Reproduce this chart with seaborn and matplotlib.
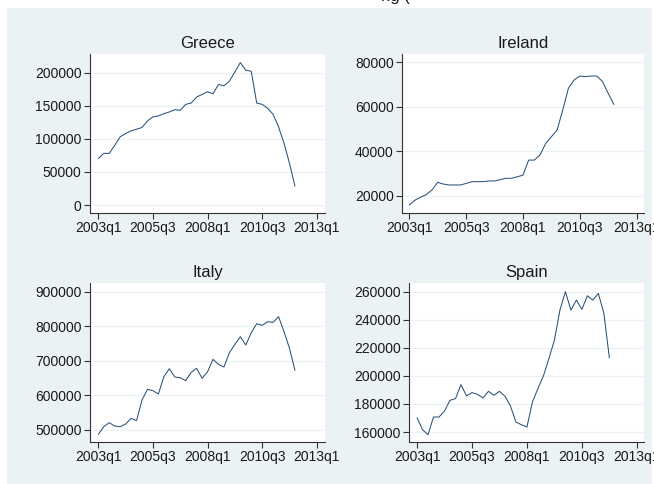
import matplotlib
matplotlib.use("Agg")
import matplotlib.pyplot as plt
import seaborn as sns
import pandas as pd
from matplotlib.patches import Rectangle

# ---------------- data ----------------
tick_pos = [0, 10, 20, 30, 40]
tick_labels = ["2003q1", "2005q3", "2008q1", "2010q3", "2013q1"]

greece = [70000, 78000, 78000, 90000, 103000, 108000, 112000, 114500, 117000,
          127000, 133000, 134500, 138000, 140500, 144000, 143000, 152000, 154000,
          163000, 167000, 171000, 168000, 182000, 180000, 187000, 201000, 215000,
          203500, 202000, 154000, 152000, 146000, 137000, 118000, 93000, 63000, 28500]
ireland = [15800, 18000, 19300, 20500, 22600, 26000, 25200, 24800, 24800, 24800,
           25500, 26300, 26300, 26300, 26600, 26600, 27200, 27800, 27800, 28500,
           29200, 36000, 36000, 38300, 43500, 46500, 49500, 58500, 68300, 72000,
           73800, 73500, 73800, 73800, 71300, 66000, 61000]
italy = [486500, 508700, 520300, 510600, 508700, 516400, 532900, 526100, 586000,
         616900, 613000, 603400, 653600, 676800, 652700, 650700, 642000, 666200,
         677800, 648800, 668100, 703900, 689400, 681600, 723200, 747300, 769600,
         745400, 781200, 807200, 802400, 813000, 811100, 827500, 784100, 735700, 672000]
spain = [170200, 161700, 158100, 170700, 170700, 175000, 182600, 183800, 193800,
         185700, 188100, 186900, 184300, 189000, 186200, 189000, 185500, 178600,
         167100, 165200, 163600, 181400, 191000, 200000, 212400, 225500, 246900,
         260000, 246900, 254000, 247400, 257100, 254000, 258800, 244500, 212900]

greece_ticks = [0, 50000, 100000, 150000, 200000]
ireland_ticks = [20000, 40000, 60000, 80000]
italy_ticks = [500000, 600000, 700000, 800000, 900000]
spain_ticks = [160000, 180000, 200000, 220000, 240000, 260000]

# ---------------- style ----------------
sns.set_theme(style="white")
plt.rcParams['font.family'] = ['Liberation Sans', 'DejaVu Sans']

BG = "#EAF2F3"
LINE = "#2A5279"
TXT = "#1a1a1a"

W, H = 654, 484
fig = plt.figure(figsize=(W / 100, H / 100), dpi=100, facecolor="white")
fig.patches.append(Rectangle((7 / W, 0), (652 - 7) / W, (484 - 8) / H,
                             transform=fig.transFigure, facecolor=BG,
                             edgecolor="none", zorder=-10))

# partially visible title cut off at top of image
fig.text(395 / W, 1 - 1 / H, "ng (", ha="center", va="baseline",
         fontsize=12, color=TXT)


def px_axes(left, right, top, bottom):
    return fig.add_axes([left / W, 1 - bottom / H, (right - left) / W, (bottom - top) / H])


panels = [
    ("Greece", greece, greece_ticks, (90, 325, 54, 213), (-1.52, 41.5), (-12000, 228000)),
    ("Ireland", ireland, ireland_ticks, (402, 644, 54, 213), (-1.29, 41.3), (12200, 83700)),
    ("Italy", italy, italy_ticks, (90, 325, 283, 442), (-1.52, 41.5), (464300, 925200)),
    ("Spain", spain, spain_ticks, (409, 644, 283, 442), (-1.46, 41.3), (152900, 266200)),
]

for title, vals, yt, box, xl, yl in panels:
    ax = px_axes(*box)
    df = pd.DataFrame({"q": list(range(len(vals))), "v": vals})
    sns.lineplot(data=df, x="q", y="v", ax=ax, color=LINE, linewidth=0.75)
    ax.set_facecolor("white")
    ax.set_xlim(*xl)
    ax.set_ylim(*yl)
    ax.set_xticks(tick_pos)
    ax.set_xticklabels(tick_labels)
    ax.set_yticks(yt)
    ax.set_yticklabels([str(t) for t in yt])
    ax.set_xlabel("")
    ax.set_ylabel("")
    for s in ["top", "right"]:
        ax.spines[s].set_visible(False)
    for s in ["left", "bottom"]:
        ax.spines[s].set_visible(True)
        ax.spines[s].set_color("#333333")
        ax.spines[s].set_linewidth(0.8)
    ax.grid(axis="y", color=BG, linewidth=0.9)
    ax.set_axisbelow(True)
    ax.tick_params(axis="both", direction="out", length=4, width=0.8,
                   color="#333333", labelsize=10, labelcolor=TXT, pad=2,
                   left=True, bottom=True)
    ax.set_title(title, fontsize=12, color=TXT, pad=4.5)

fig.savefig("out.png", dpi=100, facecolor="white")
